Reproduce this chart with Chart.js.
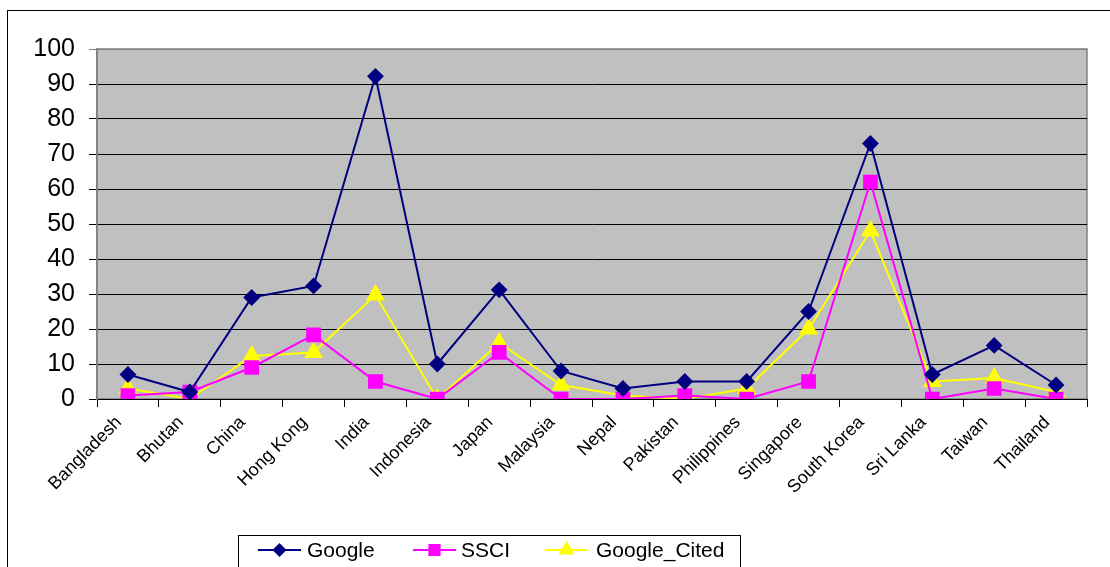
<!DOCTYPE html>
<html>
<head>
<meta charset="utf-8">
<script src="https://cdn.jsdelivr.net/npm/chart.js@4"></script>
<style>
  body { margin: 0; background: #fff; }
  canvas { display: block; }
</style>
</head>
<body>
<canvas id="grafico" width="1110" height="567"></canvas>
<script>
const countries = ['Bangladesh', 'Bhutan', 'China', 'Hong Kong', 'India', 'Indonesia', 'Japan', 'Malaysia',
  'Nepal', 'Pakistan', 'Philippines', 'Singapore', 'South Korea', 'Sri Lanka', 'Taiwan', 'Thailand'];
const google = [7, 2, 29, 32.3, 92.2, 10, 31.2, 8, 3, 5, 5, 25, 73, 7, 15.3, 4];
const sscI = [1, 2, 9, 18.3, 5, 0, 13.3, 0, 0, 1, 0, 5, 62, 0, 3, 0];
const googleCited = [3, 0, 12.3, 13.3, 29.7, 0, 16, 4, 1, 0, 3, 20, 48, 5, 6, 2];
const yTicks = [0, 10, 20, 30, 40, 50, 60, 70, 80, 90, 100];

// fundo cinza da area do grafico + moldura externa + legenda com caixa
const moldura = {
  id: 'moldura',
  beforeDraw(chart) {
    const c = chart.ctx, a = chart.chartArea;
    c.save();
    c.fillStyle = '#C0C0C0';
    c.fillRect(a.left, a.top, a.right - a.left, a.bottom - a.top);
    c.strokeStyle = '#808080';
    c.lineWidth = 1.5;
    c.strokeRect(a.left, a.top, a.right - a.left, a.bottom - a.top);
    c.restore();
  },
  afterDraw(chart) {
    const c = chart.ctx;
    c.save();
    c.strokeStyle = '#000';
    c.lineWidth = 1;
    c.strokeRect(7.5, 10.5, 1120, 600);
    // legenda
    c.fillStyle = '#fff';
    c.fillRect(238, 535, 502, 40);
    c.strokeRect(238.5, 535.5, 502, 40);
    const items = [
      { ds: chart.data.datasets[0], x: 258, tx: 307 },
      { ds: chart.data.datasets[1], x: 413, tx: 461 },
      { ds: chart.data.datasets[2], x: 545, tx: 596 }
    ];
    const y = 550;
    items.forEach(it => {
      c.strokeStyle = it.ds.borderColor;
      c.lineWidth = 2;
      c.beginPath();
      c.moveTo(it.x, y);
      c.lineTo(it.x + 43, y);
      c.stroke();
      c.fillStyle = it.ds.backgroundColor;
      Chart.helpers.drawPoint(c, {
        pointStyle: it.ds.pointStyle,
        radius: it.ds.pointRadius * 0.8,
        borderWidth: 1
      }, it.x + 21.5, y);
      c.fillStyle = '#000';
      c.font = '21px "Liberation Sans", Arial, sans-serif';
      c.textBaseline = 'middle';
      c.fillText(it.ds.label, it.tx, y + 1);
    });
    c.restore();
  }
};

const ctx = document.getElementById('grafico');

new Chart(ctx, {
  type: 'line',
  data: {
    labels: countries,
    datasets: [{
      label: 'Google',
      data: google,
      borderColor: '#000080',
      backgroundColor: '#000080',
      borderWidth: 2,
      pointStyle: 'rectRot',
      pointRadius: 7,
      tension: 0
    }, {
      label: 'SSCI',
      data: sscI,
      borderColor: '#FF00FF',
      backgroundColor: '#FF00FF',
      borderWidth: 2,
      pointStyle: 'rect',
      pointRadius: 9,
      tension: 0
    }, {
      label: 'Google_Cited',
      data: googleCited,
      borderColor: '#FFFF00',
      backgroundColor: '#FFFF00',
      borderWidth: 2,
      pointStyle: 'triangle',
      pointRadius: 9,
      tension: 0
    }]
  },
  options: {
    responsive: false,
    animation: false,
    layout: { padding: { top: 49, right: 23, left: 0, bottom: 0 } },
    plugins: {
      legend: { display: false },
      tooltip: { enabled: false }
    },
    scales: {
      x: {
        offset: true,
        grid: {
          offset: true,
          drawOnChartArea: false,
          drawTicks: true,
          tickLength: 8,
          color: '#000'
        },
        border: { display: false },
        ticks: {
          minRotation: 45,
          maxRotation: 45,
          padding: 5,
          labelOffset: -9,
          color: '#000',
          font: { family: '"Liberation Sans", Arial, sans-serif', size: 18 }
        },
        afterFit(scale) { scale.height = 168; }
      },
      y: {
        min: 0,
        max: 100,
        afterBuildTicks(scale) { scale.ticks = yTicks.map(v => ({ value: v })); },
        grid: {
          color: c => (c.tick && c.tick.value === 100) ? '#808080' : '#000',
          lineWidth: 1,
          tickLength: 8
        },
        border: { display: true, color: '#808080', width: 1.5 },
        ticks: {
          padding: 14,
          color: '#000',
          font: { family: '"Liberation Sans", Arial, sans-serif', size: 25 }
        },
        afterFit(scale) { scale.width = 97; }
      }
    }
  },
  plugins: [moldura]
});
</script>
</body>
</html>
